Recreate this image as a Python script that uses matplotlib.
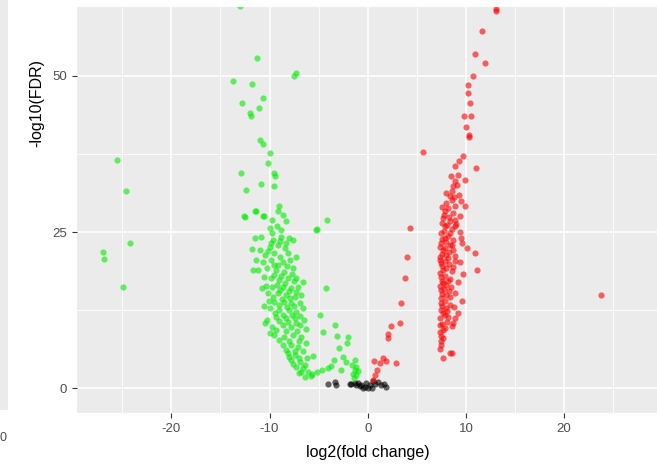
import matplotlib
matplotlib.use("Agg")
import matplotlib.pyplot as plt
import numpy as np

plt.rcParams['font.family'] = ['Liberation Sans', 'DejaVu Sans']
plt.rcParams['axes.unicode_minus'] = False

# puntos verdes (down), (log2FC, -log10 FDR)
verdes = [
    (-25.5, 36.5), (-24.6, 31.6), (-24.2, 23.2), (-27.0, 21.8), (-26.9, 20.7), (-24.9, 16.2),
    (-13.0, 61.1), (-11.3, 52.9), (-7.3, 50.5), (-7.55, 50.0), (-13.7, 49.2), (-11.8, 48.7),
    (-10.7, 46.4), (-12.8, 45.6), (-11.1, 44.9), (-12.0, 44.0), (-11.9, 43.6), (-10.95, 39.7),
    (-10.7, 39.1), (-9.9, 37.7), (-10.2, 36.1), (-12.9, 34.4), (-9.5, 34.5), (-9.4, 33.9),
    (-10.9, 32.7), (-12.4, 31.7), (-9.5, 32.3),
    (-12.5, 27.4), (-11.5, 28.3), (-10.6, 27.6), (-5.2, 25.5), (-4.1, 26.9), (-5.3, 25.4),
    (-12.55, 27.5), (-11.4, 28.3), (-10.7, 27.5), (-9.0, 29.1), (-9.15, 28.3), (-8.6, 27.7),
    (-8.3, 26.7), (-9.7, 26.9), (-10.0, 25.6), (-10.85, 24.2), (-9.7, 24.8), (-8.8, 24.2),
    (-8.0, 24.0), (-9.8, 23.2), (-9.15, 22.9), (-8.3, 23.2), (-7.6, 23.7), (-11.0, 22.1),
    (-10.5, 21.3), (-9.5, 21.6), (-8.1, 21.6), (-7.3, 21.0), (-10.7, 20.2), (-9.5, 19.7),
    (-8.6, 20.2), (-11.7, 18.9), (-11.2, 19.0), (-9.3, 18.9), (-8.5, 18.6), (-7.6, 19.2),
    (-9.8, 17.6), (-9.0, 17.3), (-8.1, 17.6), (-7.3, 17.7), (-6.6, 17.0), (-9.7, 16.2),
    (-8.6, 16.2), (-7.8, 16.0), (-7.1, 16.2), (-10.2, 15.2), (-9.15, 15.2), (-8.3, 14.9),
    (-7.45, 14.6), (-9.5, 13.8), (-8.5, 13.8), (-7.8, 13.6), (-6.9, 13.6), (-10.0, 12.8),
    (-9.0, 12.5), (-8.0, 12.5), (-7.3, 12.2), (-9.3, 11.4), (-8.3, 11.2), (-7.45, 11.2),
    (-9.7, 9.8), (-8.6, 10.1), (-7.8, 9.8), (-6.9, 10.1), (-9.5, 8.5), (-8.5, 8.2),
    (-7.6, 8.5), (-6.8, 8.2), (-8.6, 6.9), (-7.8, 6.9), (-7.1, 6.6), (-8.1, 5.6),
    (-7.45, 5.3), (-7.8, 4.5), (-6.9, 4.2), (-7.3, 3.4), (-6.4, 3.7), (-6.8, 2.6), (-6.1, 2.6),
    (-9.2, 26.0), (-8.8, 25.3), (-9.6, 23.8), (-8.9, 23.5), (-8.4, 22.4), (-9.9, 22.6),
    (-10.2, 21.9), (-8.9, 21.0), (-7.9, 20.6), (-9.8, 20.5), (-10.3, 19.3), (-8.2, 19.5),
    (-9.1, 19.8), (-8.8, 18.0), (-7.7, 18.3), (-9.5, 18.2), (-10.6, 17.8), (-8.4, 16.9),
    (-9.2, 16.6), (-7.5, 17.2), (-10.4, 16.4), (-8.0, 15.5), (-8.9, 15.7), (-7.3, 15.4),
    (-9.6, 14.6), (-8.7, 14.3), (-7.9, 14.5), (-6.8, 14.9), (-10.1, 13.9), (-9.0, 13.3),
    (-8.2, 13.0), (-7.5, 13.2), (-6.6, 12.8), (-9.4, 12.0), (-8.6, 11.8), (-7.7, 11.7),
    (-6.9, 11.5), (-10.3, 11.0), (-9.0, 10.7), (-8.1, 10.6), (-7.3, 10.5), (-6.5, 10.9),
    (-9.3, 9.4), (-8.3, 9.2), (-7.2, 9.2), (-6.3, 9.5), (-9.0, 7.8), (-8.0, 7.6),
    (-7.0, 7.5), (-6.3, 7.2), (-8.3, 6.2), (-7.4, 6.0), (-6.6, 5.9), (-8.0, 5.0),
    (-7.0, 4.8), (-6.2, 4.9), (-7.6, 3.9), (-6.6, 3.2), (-7.0, 2.4), (-5.8, 2.0),
    (-6.4, 1.8), (-10.8, 16.1), (-10.6, 13.2), (-10.5, 10.4), (-10.0, 8.9), (-11.5, 24.1),
    (-11.8, 22.3), (-11.4, 20.6),
    (-4.9, 11.7), (-4.2, 16.1), (-3.3, 10.1), (-4.6, 9.0), (-3.1, 8.4), (-2.0, 8.2),
    (-2.1, 7.3), (-2.9, 6.4), (-2.5, 5.0), (-3.4, 4.5), (-2.2, 4.2), (-1.3, 4.5),
    (-1.2, 3.4), (-1.5, 2.3), (-1.15, 2.1), (-5.2, 2.6), (-4.7, 2.9), (-4.0, 3.2),
    (-5.6, 5.1), (-5.7, 2.3), (-1.3, 3.0), (-1.6, 3.8), (-1.0, 2.8), (-3.7, 3.6),
    (-2.7, 2.9), (-1.4, 1.7),
]

# puntos rojos (up)
rojos = [
    (13.06, 60.7), (13.1, 60.3), (11.6, 57.1), (10.9, 53.5), (11.9, 52.0), (10.75, 50.0),
    (10.2, 48.5), (10.2, 47.3), (10.4, 45.6), (9.8, 43.6), (10.55, 43.6), (10.0, 41.8),
    (10.3, 40.5), (10.35, 40.2), (5.6, 37.8), (9.7, 37.2), (9.25, 36.3), (8.9, 35.6),
    (11.0, 35.2),
    (8.5, 33.9), (9.2, 34.1), (9.9, 33.3), (8.9, 33.1), (8.7, 32.3), (9.1, 32.5),
    (8.4, 30.7), (8.0, 29.6), (8.9, 29.1), (9.9, 29.1), (7.9, 28.3), (8.7, 28.0),
    (9.4, 27.5), (7.7, 27.2), (8.4, 26.7), (4.3, 25.7), (7.9, 25.9), (8.9, 25.9),
    (7.5, 24.8), (8.4, 24.8), (9.4, 25.0), (7.9, 24.0), (8.7, 23.7), (7.5, 23.2),
    (8.4, 22.9), (9.6, 23.2), (10.1, 22.4), (10.9, 21.6), (7.7, 22.1), (8.7, 22.1),
    (3.95, 21.0), (7.35, 21.0), (8.2, 20.8), (9.4, 20.2), (7.5, 20.0), (8.7, 19.4),
    (11.1, 19.0), (7.7, 18.9), (9.7, 18.3), (3.8, 17.7), (7.5, 17.8), (8.4, 17.5),
    (7.7, 16.8), (8.5, 16.2), (7.5, 15.7), (8.9, 15.2), (8.4, 14.6), (9.6, 14.0),
    (3.4, 13.7), (7.5, 13.6), (8.0, 12.8), (7.7, 12.0), (8.2, 11.4), (8.9, 11.2),
    (7.35, 10.1), (3.3, 10.4), (2.4, 9.9), (7.7, 9.3), (7.35, 9.0), (2.1, 8.7),
    (2.1, 8.0), (7.5, 7.5), (7.5, 6.9), (8.4, 5.6), (8.6, 5.6), (7.7, 4.9),
    (0.6, 4.3), (1.55, 4.8), (1.9, 4.4), (1.2, 4.0), (2.9, 4.1), (0.9, 2.9),
    (0.7, 2.1), (0.55, 1.3),
    (7.6, 29.0), (8.2, 28.8), (8.6, 30.2), (8.0, 31.2), (7.8, 27.8), (8.3, 27.4),
    (8.9, 27.0), (7.6, 26.4), (8.1, 26.1), (8.6, 25.5), (7.8, 25.2), (8.2, 24.4),
    (7.6, 23.9), (8.0, 23.4), (8.6, 23.0), (7.4, 22.6), (7.9, 22.5), (8.3, 21.8),
    (7.6, 21.5), (8.0, 21.3), (8.9, 21.2), (7.4, 20.5), (7.9, 20.4), (8.3, 19.9),
    (7.6, 19.5), (8.0, 19.2), (8.6, 18.7), (7.4, 18.5), (7.9, 18.0), (8.2, 17.1),
    (7.6, 17.2), (8.0, 16.5), (7.4, 16.3), (7.8, 15.9), (8.3, 15.6), (7.6, 15.1),
    (8.0, 14.9), (7.5, 14.5), (7.9, 14.0), (8.4, 13.4), (7.6, 13.1), (8.1, 12.4),
    (7.5, 12.5), (7.9, 11.7), (7.4, 11.3), (8.1, 10.6), (7.6, 10.3), (7.9, 9.7),
    (8.6, 9.9), (7.5, 8.4), (7.7, 8.0), (7.4, 6.3), (8.6, 31.6), (9.3, 31.0),
    (8.8, 30.6), (9.5, 30.0), (9.0, 26.3), (9.5, 24.0), (8.9, 20.4), (9.2, 17.0),
    (8.8, 13.0), (9.2, 12.0), (8.7, 10.5),
    (23.7, 14.9),
]

# puntos no significativos
negros = [
    (-4.05, 0.75), (-3.3, 1.0), (-3.2, 0.5), (-1.85, 0.65), (-1.3, 0.85), (-1.0, 0.8),
    (-0.65, 0.5), (-0.3, 0.2), (0.0, 0.1), (0.2, 0.5), (-0.15, 0.8), (0.4, 0.0),
    (0.7, 0.75), (1.05, 1.0), (1.4, 0.5), (1.7, 0.75), (1.9, 0.2), (-0.8, 0.3),
    (-0.5, 0.0), (0.55, 1.1), (-1.7, 0.7), (-1.15, 0.5),
]

ticks_x = [-20, -10, 0, 10, 20]
ticks_y = [0, 25, 50]

fig = plt.figure(figsize=(6.57, 4.66), dpi=100)

# trozo del panel vecino a la izquierda
fig.patches.append(plt.Rectangle((0, 56 / 466), 8 / 657, 410 / 466, transform=fig.transFigure,
                                 facecolor="#EBEBEB", edgecolor="none"))
fig.text(3 / 657, 1 - 438 / 466, "0", ha="center", va="center", fontsize=9, color="#4D4D4D")

ax = fig.add_axes([77 / 657, 53 / 466, 580 / 657, 406 / 466])
ax.set_facecolor("#EBEBEB")

for x in [-25, -15, -5, 5, 15, 25]:
    ax.axvline(x, color="white", linewidth=0.6, zorder=0)
for y in [12.5, 37.5]:
    ax.axhline(y, color="white", linewidth=0.6, zorder=0)
for x in ticks_x:
    ax.axvline(x, color="white", linewidth=1.2, zorder=0)
for y in ticks_y:
    ax.axhline(y, color="white", linewidth=1.2, zorder=0)

for pts, col in [(negros, "black"), (verdes, "#00EE00"), (rojos, "#FF0000")]:
    arr = np.array(pts)
    ax.scatter(arr[:, 0], arr[:, 1], s=20, color=col, alpha=0.6, linewidths=0, zorder=2)

ax.set_xlim(-29.6, 29.45)
ax.set_ylim(-3.95, 61.0)
ax.set_xticks(ticks_x)
ax.set_yticks(ticks_y)
ax.tick_params(colors="#333333", labelcolor="#4D4D4D", labelsize=9.5, length=3.5, width=0.8)
for s in ax.spines.values():
    s.set_visible(False)

fig.text(368 / 657, 1 - 452 / 466, "log2(fold change)", ha="center", va="center", fontsize=11.5)
fig.text(37 / 657, 1 - 103 / 466, "-log10(FDR)", ha="center", va="center", rotation=90, fontsize=11.5)

plt.savefig("out.png", dpi=100)
